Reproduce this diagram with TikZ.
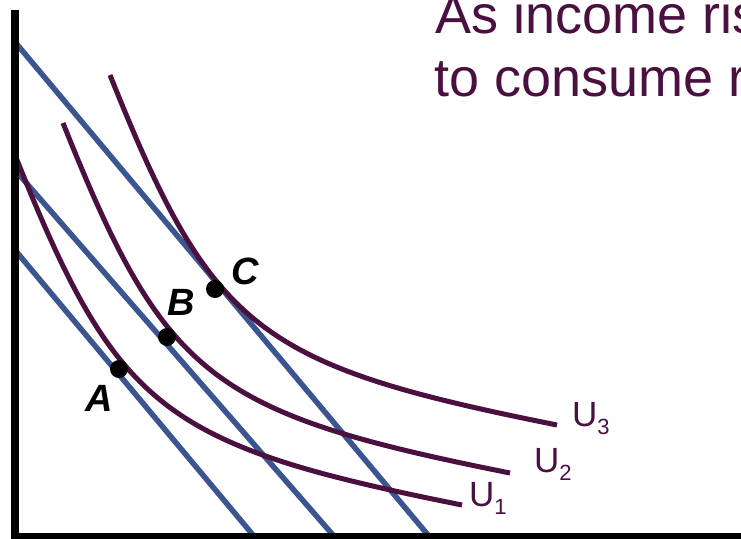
\documentclass[tikz,border=0pt]{standalone}
\usepackage{fontspec}
\setmainfont{Liberation Sans}
\definecolor{plum}{RGB}{74,16,64}
\definecolor{budget}{RGB}{59,85,145}
\begin{document}
\begin{tikzpicture}[x=1pt,y=-1pt,
  budgetline/.style={draw=budget,line width=5.5pt},
  icurve/.style={draw=plum,line width=5pt},
  axisline/.style={draw=black,line width=8pt},
  dotnode/.style={circle,fill=black,inner sep=0pt,minimum size=18pt},
  ptlabel/.style={font=\fontsize{38}{38}\selectfont\bfseries\itshape,inner sep=0pt},
  ulabel/.style={text=plum,font=\fontsize{35}{35}\selectfont,inner sep=0pt,anchor=base west},
  toptext/.style={text=plum,font=\fontsize{54}{64}\selectfont,inner sep=0pt,anchor=base west},
  ]
\clip (0,0) rectangle (741,538);
\fill[white] (0,0) rectangle (741,538);
% budget lines
\coordinate (L1a) at (15,42);  \coordinate (L1b) at (428,535);
\coordinate (L2a) at (15,170); \coordinate (L2b) at (333,535);
\coordinate (L3a) at (15,250); \coordinate (L3b) at (253,535);
\draw[budgetline] (L1a) -- (L1b);
\draw[budgetline] (L2a) -- (L2b);
\draw[budgetline] (L3a) -- (L3b);
% indifference curves
\draw[icurve] (15,155) .. controls (117,410) and (161.7,445) .. (462,505);
\begin{scope}[shift={(48,-32)}]
\draw[icurve] (15,155) .. controls (117,410) and (161.7,445) .. (462,505);
\end{scope}
\begin{scope}[shift={(95,-80)}]
\draw[icurve] (15,155) .. controls (117,410) and (161.7,445) .. (462,505);
\end{scope}
% axes
\coordinate (ytop) at (15,10);
\coordinate (O) at (15,537);
\coordinate (xend) at (745,537);
\draw[axisline] (ytop) -- (O) -- (xend);
% points
\node[dotnode] (A) at (119,369) {};
\node[dotnode] (B) at (167,337) {};
\node[dotnode] (C) at (215,289) {};
\node[ptlabel] (Alab) at (99,398) {A};
\node[ptlabel] (Blab) at (181,302) {B};
\node[ptlabel] (Clab) at (245,271) {C};
% curve labels
\node[ulabel] (U1) at (469,506) {U\raisebox{-8pt}{\fontsize{22}{22}\selectfont 1}};
\node[ulabel] (U2) at (534,472) {U\raisebox{-8pt}{\fontsize{22}{22}\selectfont 2}};
\node[ulabel] (U3) at (572,426) {U\raisebox{-8pt}{\fontsize{22}{22}\selectfont 3}};
% title text
\node[toptext] (t1) at (435,33) {As income ris};
\node[toptext] (t2) at (434,96) {to consume r};
\end{tikzpicture}
\end{document}
